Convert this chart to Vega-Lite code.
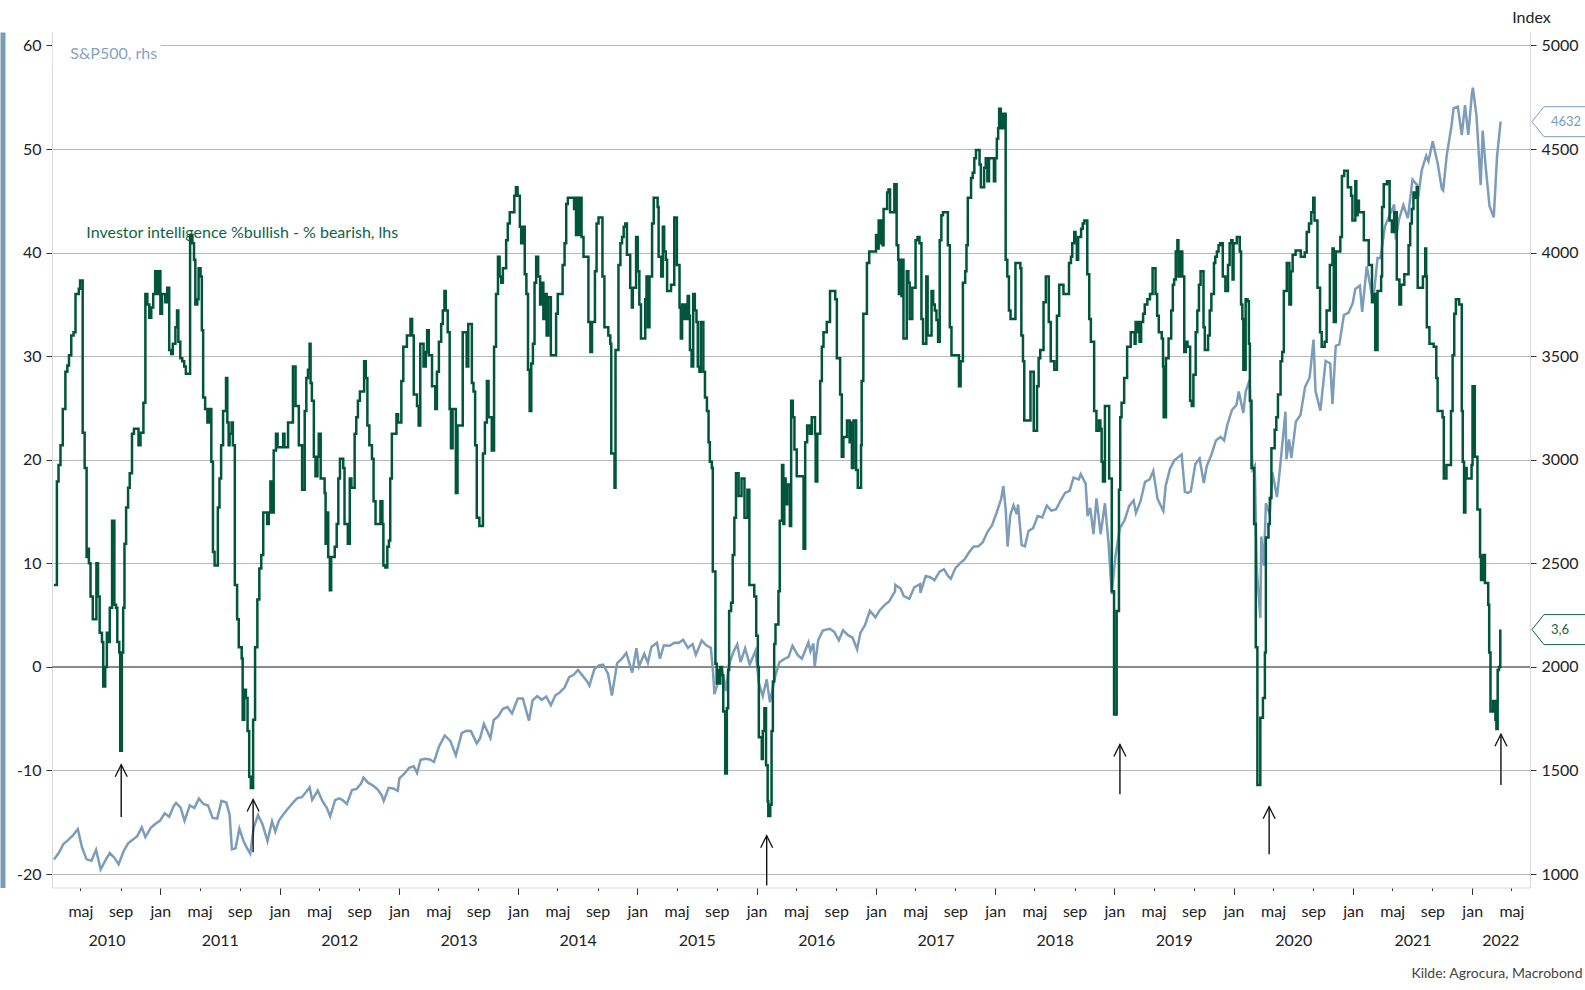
{
  "$schema": "https://vega.github.io/schema/vega-lite/v6.json",
  "width": 1478,
  "height": 855.5,
  "autosize": {"type": "none"},
  "padding": {"left": 52, "top": 32, "right": 55, "bottom": 102.5},
  "background": "white",
  "config": {
    "view": {"stroke": null},
    "font": "Lato",
    "axis": {"labelFont": "Lato", "labelFontSize": 16, "labelColor": "#222", "titleFont": "Lato", "domainColor": "#d9d9d9", "tickColor": "#333", "grid": false}
  },
  "datasets": {
    "ii": [
      {"d":"2010-02-09","v":7.9},{"d":"2010-02-18","v":17.9},{"d":"2010-02-23","v":19.5},{"d":"2010-03-01","v":21.4},{"d":"2010-03-08","v":24.9},{"d":"2010-03-16","v":28.5},{"d":"2010-03-22","v":29.1},{"d":"2010-03-27","v":30.1},{"d":"2010-04-03","v":32},{"d":"2010-04-10","v":32.3},{"d":"2010-04-16","v":36},{"d":"2010-04-26","v":36.5},{"d":"2010-04-30","v":37.3},{"d":"2010-05-08","v":22.6},{"d":"2010-05-14","v":19.2},{"d":"2010-05-20","v":10.6},{"d":"2010-05-22","v":11.4},{"d":"2010-05-27","v":10},{"d":"2010-06-01","v":6.8},{"d":"2010-06-08","v":4.6},{"d":"2010-06-19","v":10},{"d":"2010-06-24","v":6.8},{"d":"2010-06-29","v":3.3},{"d":"2010-07-06","v":2.4},{"d":"2010-07-10","v":-1.9},{"d":"2010-07-16","v":0},{"d":"2010-07-21","v":3.3},{"d":"2010-07-27","v":2.4},{"d":"2010-07-30","v":5.7},{"d":"2010-08-06","v":14.1},{"d":"2010-08-13","v":6},{"d":"2010-08-18","v":5.7},{"d":"2010-08-22","v":2.4},{"d":"2010-08-28","v":1.4},{"d":"2010-08-31","v":-8.1},{"d":"2010-09-05","v":1.4},{"d":"2010-09-09","v":5.7},{"d":"2010-09-13","v":11.9},{"d":"2010-09-18","v":15.4},{"d":"2010-09-24","v":17.3},{"d":"2010-09-29","v":18.7},{"d":"2010-10-06","v":22.5},{"d":"2010-10-12","v":23},{"d":"2010-10-26","v":21.4},{"d":"2010-11-01","v":22.6},{"d":"2010-11-10","v":25.5},{"d":"2010-11-16","v":36},{"d":"2010-11-22","v":35},{"d":"2010-11-28","v":33.7},{"d":"2010-12-04","v":34.7},{"d":"2010-12-10","v":36},{"d":"2010-12-16","v":38.2},{"d":"2010-12-21","v":36},{"d":"2010-12-27","v":38.2},
      {"d":"2011-01-01","v":34.1},{"d":"2011-01-06","v":36},{"d":"2011-01-16","v":35.2},{"d":"2011-01-22","v":36.6},{"d":"2011-01-28","v":30.6},{"d":"2011-02-03","v":30.2},{"d":"2011-02-08","v":31.2},{"d":"2011-02-16","v":32.8},{"d":"2011-02-21","v":34.4},{"d":"2011-02-25","v":31.4},{"d":"2011-03-03","v":29.8},{"d":"2011-03-09","v":29.5},{"d":"2011-03-15","v":29},{"d":"2011-03-20","v":28.3},{"d":"2011-04-02","v":41.7},{"d":"2011-04-09","v":40.9},{"d":"2011-04-14","v":39.3},{"d":"2011-04-18","v":35},{"d":"2011-04-24","v":35.5},{"d":"2011-04-28","v":38.5},{"d":"2011-05-04","v":37.7},{"d":"2011-05-08","v":32.5},{"d":"2011-05-12","v":26},{"d":"2011-05-18","v":24.9},{"d":"2011-05-25","v":23.6},{"d":"2011-05-31","v":24.9},{"d":"2011-06-06","v":19.8},{"d":"2011-06-11","v":11.1},{"d":"2011-06-16","v":9.8},{"d":"2011-06-26","v":15.4},{"d":"2011-07-01","v":18.2},{"d":"2011-07-06","v":21.4},{"d":"2011-07-12","v":24.7},{"d":"2011-07-21","v":27.9},{"d":"2011-07-25","v":23.6},{"d":"2011-07-29","v":21.4},{"d":"2011-08-01","v":22.5},{"d":"2011-08-07","v":23.6},{"d":"2011-08-11","v":21.4},{"d":"2011-08-17","v":7.9},{"d":"2011-08-24","v":4.6},{"d":"2011-08-29","v":1.9},{"d":"2011-09-07","v":0.8},{"d":"2011-09-10","v":-5.1},{"d":"2011-09-15","v":-2.2},{"d":"2011-09-20","v":-3},{"d":"2011-09-25","v":-6.2},{"d":"2011-09-30","v":-10.6},{"d":"2011-10-05","v":-11.7},{"d":"2011-10-12","v":-5.1},{"d":"2011-10-18","v":1.9},{"d":"2011-10-25","v":6.5},{"d":"2011-10-31","v":9.5},{"d":"2011-11-06","v":10.8},{"d":"2011-11-12","v":14.9},{"d":"2011-11-24","v":13.8},{"d":"2011-11-29","v":14.9},{"d":"2011-12-04","v":17.9},{"d":"2011-12-10","v":14.9},{"d":"2011-12-14","v":20.9},{"d":"2011-12-21","v":22.5},{"d":"2011-12-26","v":21.2},
      {"d":"2012-01-12","v":22.5},{"d":"2012-01-16","v":21.2},{"d":"2012-01-27","v":23.6},{"d":"2012-02-11","v":29},{"d":"2012-02-19","v":25.2},{"d":"2012-02-29","v":21.4},{"d":"2012-03-10","v":17.1},{"d":"2012-03-18","v":24.7},{"d":"2012-03-23","v":27.9},{"d":"2012-03-28","v":28.7},{"d":"2012-04-02","v":31.2},{"d":"2012-04-05","v":27.4},{"d":"2012-04-09","v":25.7},{"d":"2012-04-15","v":20.3},{"d":"2012-04-20","v":18.4},{"d":"2012-04-26","v":20.3},{"d":"2012-04-30","v":22.5},{"d":"2012-05-06","v":18.2},{"d":"2012-05-18","v":16.8},{"d":"2012-05-21","v":11.9},{"d":"2012-05-25","v":14.9},{"d":"2012-05-29","v":10.6},{"d":"2012-06-03","v":7.4},{"d":"2012-06-07","v":10.6},{"d":"2012-06-18","v":11.6},{"d":"2012-06-24","v":13.8},{"d":"2012-06-29","v":18.2},{"d":"2012-07-04","v":20.1},{"d":"2012-07-14","v":19.2},{"d":"2012-07-18","v":13.8},{"d":"2012-07-28","v":11.9},{"d":"2012-08-03","v":18.2},{"d":"2012-08-08","v":17.3},{"d":"2012-08-18","v":22.5},{"d":"2012-08-23","v":24.1},{"d":"2012-08-28","v":25.7},{"d":"2012-09-03","v":26.6},{"d":"2012-09-16","v":29.5},{"d":"2012-09-21","v":27.9},{"d":"2012-09-26","v":23.3},{"d":"2012-10-02","v":21.4},{"d":"2012-10-10","v":20.1},{"d":"2012-10-15","v":16},{"d":"2012-10-21","v":13.8},{"d":"2012-11-05","v":16},{"d":"2012-11-11","v":13.8},{"d":"2012-11-14","v":9.8},{"d":"2012-11-20","v":9.6},{"d":"2012-11-26","v":11.6},{"d":"2012-12-01","v":12.2},{"d":"2012-12-05","v":18.2},{"d":"2012-12-10","v":22.5},{"d":"2012-12-24","v":24.4},{"d":"2012-12-29","v":23.6},
      {"d":"2013-01-08","v":27.6},{"d":"2013-01-14","v":30.9},{"d":"2013-01-25","v":32},{"d":"2013-02-05","v":33.6},{"d":"2013-02-10","v":32},{"d":"2013-02-15","v":26.3},{"d":"2013-02-25","v":25.2},{"d":"2013-03-02","v":23.3},{"d":"2013-03-07","v":31.2},{"d":"2013-03-17","v":29},{"d":"2013-03-24","v":30.4},{"d":"2013-03-28","v":32.5},{"d":"2013-04-02","v":30.1},{"d":"2013-04-12","v":27.1},{"d":"2013-04-22","v":24.9},{"d":"2013-04-27","v":28.5},{"d":"2013-05-03","v":31.4},{"d":"2013-05-10","v":33.1},{"d":"2013-05-15","v":34.4},{"d":"2013-05-20","v":36.3},{"d":"2013-05-24","v":34.4},{"d":"2013-05-30","v":32.3},{"d":"2013-06-05","v":24.9},{"d":"2013-06-09","v":21.1},{"d":"2013-06-14","v":24.9},{"d":"2013-06-24","v":16.8},{"d":"2013-06-29","v":23.3},{"d":"2013-07-15","v":32.3},{"d":"2013-07-27","v":29},{"d":"2013-08-01","v":33.1},{"d":"2013-08-12","v":27.4},{"d":"2013-08-17","v":26.6},{"d":"2013-08-22","v":21.4},{"d":"2013-08-27","v":14.4},{"d":"2013-09-04","v":13.6},{"d":"2013-09-15","v":20.6},{"d":"2013-09-21","v":23.6},{"d":"2013-09-27","v":27.6},{"d":"2013-10-02","v":24.1},{"d":"2013-10-12","v":20.9},{"d":"2013-10-19","v":30.9},{"d":"2013-10-25","v":36},{"d":"2013-10-31","v":39.6},{"d":"2013-11-05","v":37.7},{"d":"2013-11-10","v":37.1},{"d":"2013-11-15","v":38.5},{"d":"2013-11-25","v":41.2},{"d":"2013-11-30","v":42.8},{"d":"2013-12-06","v":43.9},{"d":"2013-12-20","v":45.5},{"d":"2013-12-25","v":46.3},{"d":"2013-12-30","v":45.5},
      {"d":"2014-01-06","v":42.5},{"d":"2014-01-10","v":40.9},{"d":"2014-01-16","v":42.5},{"d":"2014-01-21","v":37.9},{"d":"2014-01-26","v":36},{"d":"2014-01-31","v":28.7},{"d":"2014-02-05","v":24.7},{"d":"2014-02-10","v":29.3},{"d":"2014-02-15","v":31.2},{"d":"2014-02-20","v":37.1},{"d":"2014-02-25","v":39.6},{"d":"2014-03-03","v":37.7},{"d":"2014-03-09","v":35},{"d":"2014-03-14","v":37.1},{"d":"2014-03-19","v":33.6},{"d":"2014-03-24","v":36},{"d":"2014-03-29","v":32},{"d":"2014-04-03","v":35.7},{"d":"2014-04-11","v":30.1},{"d":"2014-04-27","v":34.1},{"d":"2014-05-02","v":36},{"d":"2014-05-17","v":38.8},{"d":"2014-05-23","v":40.9},{"d":"2014-05-28","v":44.7},{"d":"2014-06-02","v":45.3},{"d":"2014-06-21","v":44.2},{"d":"2014-06-25","v":45.3},{"d":"2014-06-27","v":41.7},{"d":"2014-07-02","v":45.3},{"d":"2014-07-06","v":41.7},{"d":"2014-07-10","v":45.3},{"d":"2014-07-14","v":41.5},{"d":"2014-07-20","v":39.6},{"d":"2014-08-04","v":33.3},{"d":"2014-08-10","v":30.4},{"d":"2014-08-15","v":33.3},{"d":"2014-08-24","v":38.2},{"d":"2014-08-29","v":42.8},{"d":"2014-09-04","v":43.4},{"d":"2014-09-16","v":37.7},{"d":"2014-09-22","v":32.8},{"d":"2014-10-04","v":32},{"d":"2014-10-10","v":31.2},{"d":"2014-10-13","v":20.6},{"d":"2014-10-23","v":17.3},{"d":"2014-10-26","v":30.6},{"d":"2014-11-04","v":38.8},{"d":"2014-11-10","v":40.9},{"d":"2014-11-15","v":41.5},{"d":"2014-11-20","v":42.5},{"d":"2014-11-25","v":42.8},{"d":"2014-11-30","v":39.8},{"d":"2014-12-10","v":36.6},{"d":"2014-12-15","v":34.7},{"d":"2014-12-18","v":36.6},{"d":"2014-12-28","v":41.5},
      {"d":"2015-01-02","v":38.2},{"d":"2015-01-07","v":35},{"d":"2015-01-12","v":31.7},{"d":"2015-01-25","v":35.5},{"d":"2015-01-29","v":37.7},{"d":"2015-02-02","v":32.8},{"d":"2015-02-07","v":37.7},{"d":"2015-02-15","v":42.8},{"d":"2015-02-20","v":45.3},{"d":"2015-03-04","v":44.4},{"d":"2015-03-07","v":39.6},{"d":"2015-03-15","v":37.7},{"d":"2015-03-20","v":42.5},{"d":"2015-03-24","v":40.1},{"d":"2015-03-29","v":39.3},{"d":"2015-04-02","v":36.3},{"d":"2015-04-14","v":36.9},{"d":"2015-04-24","v":43.4},{"d":"2015-05-02","v":38.8},{"d":"2015-05-10","v":34.7},{"d":"2015-05-14","v":31.7},{"d":"2015-05-18","v":35},{"d":"2015-05-22","v":33.6},{"d":"2015-05-26","v":35},{"d":"2015-05-31","v":33.6},{"d":"2015-06-04","v":35.8},{"d":"2015-06-08","v":33.9},{"d":"2015-06-11","v":30.6},{"d":"2015-06-16","v":29},{"d":"2015-06-21","v":36},{"d":"2015-06-26","v":34.4},{"d":"2015-07-01","v":33.3},{"d":"2015-07-05","v":29},{"d":"2015-07-10","v":28.5},{"d":"2015-07-14","v":33.3},{"d":"2015-07-22","v":28.5},{"d":"2015-07-27","v":26},{"d":"2015-08-02","v":24.7},{"d":"2015-08-07","v":21.7},{"d":"2015-08-11","v":19.8},{"d":"2015-08-17","v":19.2},{"d":"2015-08-20","v":9.2},{"d":"2015-08-28","v":0.3},{"d":"2015-09-01","v":-1.6},{"d":"2015-09-05","v":-0.3},{"d":"2015-09-08","v":-1.6},{"d":"2015-09-12","v":0},{"d":"2015-09-17","v":-0.8},{"d":"2015-09-21","v":-4.3},{"d":"2015-09-27","v":-10.3},{"d":"2015-10-02","v":-4},{"d":"2015-10-06","v":-0.3},{"d":"2015-10-09","v":5.4},{"d":"2015-10-15","v":6.2},{"d":"2015-10-20","v":10.8},{"d":"2015-10-25","v":14.4},{"d":"2015-10-30","v":18.7},{"d":"2015-11-07","v":16.5},{"d":"2015-11-16","v":18.2},{"d":"2015-11-25","v":14.4},{"d":"2015-12-04","v":17.1},{"d":"2015-12-10","v":7.9},{"d":"2015-12-25","v":6.8},{"d":"2015-12-31","v":3},
      {"d":"2016-01-05","v":0},{"d":"2016-01-08","v":-6.8},{"d":"2016-01-17","v":-8.9},{"d":"2016-01-20","v":-6.2},{"d":"2016-01-25","v":-4},{"d":"2016-01-30","v":-9.5},{"d":"2016-02-04","v":-13},{"d":"2016-02-06","v":-14.4},{"d":"2016-02-12","v":-13.3},{"d":"2016-02-16","v":-6.2},{"d":"2016-02-20","v":-1.4},{"d":"2016-02-24","v":2.2},{"d":"2016-02-28","v":4.1},{"d":"2016-03-08","v":7.3},{"d":"2016-03-12","v":14.1},{"d":"2016-03-19","v":19.5},{"d":"2016-03-23","v":13.8},{"d":"2016-03-26","v":18.2},{"d":"2016-03-30","v":15.7},{"d":"2016-04-04","v":17.6},{"d":"2016-04-12","v":13.6},{"d":"2016-04-16","v":25.7},{"d":"2016-04-21","v":24.1},{"d":"2016-04-26","v":21},{"d":"2016-05-03","v":18.4},{"d":"2016-05-24","v":11.4},{"d":"2016-05-29","v":21.7},{"d":"2016-06-04","v":23.3},{"d":"2016-06-12","v":22.5},{"d":"2016-06-18","v":24.1},{"d":"2016-06-28","v":22.5},{"d":"2016-06-30","v":17.9},{"d":"2016-07-05","v":22.5},{"d":"2016-07-14","v":27.6},{"d":"2016-07-19","v":30.9},{"d":"2016-07-24","v":32.3},{"d":"2016-08-03","v":33.3},{"d":"2016-08-13","v":36.3},{"d":"2016-08-29","v":35.5},{"d":"2016-09-03","v":29.8},{"d":"2016-09-13","v":26.3},{"d":"2016-09-18","v":20.3},{"d":"2016-09-23","v":22.2},{"d":"2016-10-04","v":23.8},{"d":"2016-10-12","v":21.7},{"d":"2016-10-16","v":23.6},{"d":"2016-10-19","v":19.2},{"d":"2016-10-24","v":23.8},{"d":"2016-11-01","v":19},{"d":"2016-11-06","v":17.3},{"d":"2016-11-16","v":21.4},{"d":"2016-11-18","v":27.6},{"d":"2016-11-23","v":34.1},{"d":"2016-12-04","v":39},{"d":"2016-12-11","v":40.1},
      {"d":"2017-01-01","v":41.7},{"d":"2017-01-05","v":40.4},{"d":"2017-01-09","v":43.1},{"d":"2017-01-14","v":40.9},{"d":"2017-01-17","v":43.1},{"d":"2017-01-21","v":40.7},{"d":"2017-01-24","v":44.2},{"d":"2017-02-04","v":45.8},{"d":"2017-02-08","v":46.1},{"d":"2017-02-13","v":43.9},{"d":"2017-02-26","v":46.6},{"d":"2017-03-05","v":40.7},{"d":"2017-03-10","v":39.3},{"d":"2017-03-12","v":36},{"d":"2017-03-17","v":39.3},{"d":"2017-03-20","v":35.8},{"d":"2017-03-23","v":39.3},{"d":"2017-03-26","v":31.7},{"d":"2017-04-05","v":38.2},{"d":"2017-04-10","v":37.1},{"d":"2017-04-14","v":33.6},{"d":"2017-04-22","v":36.6},{"d":"2017-05-02","v":41.2},{"d":"2017-05-08","v":41.5},{"d":"2017-05-14","v":40.9},{"d":"2017-05-20","v":33.6},{"d":"2017-05-25","v":31.2},{"d":"2017-06-04","v":37.7},{"d":"2017-06-08","v":32},{"d":"2017-06-20","v":36.3},{"d":"2017-06-25","v":35},{"d":"2017-06-30","v":34.4},{"d":"2017-07-05","v":33.5},{"d":"2017-07-10","v":31.4},{"d":"2017-07-15","v":41.2},{"d":"2017-07-20","v":43.6},{"d":"2017-07-25","v":43.9},{"d":"2017-08-09","v":40.7},{"d":"2017-08-15","v":32.8},{"d":"2017-08-20","v":30.1},{"d":"2017-09-12","v":27.1},{"d":"2017-09-17","v":29.5},{"d":"2017-09-24","v":37.1},{"d":"2017-10-01","v":38.2},{"d":"2017-10-05","v":40.7},{"d":"2017-10-09","v":45.3},{"d":"2017-10-19","v":47.2},{"d":"2017-10-24","v":47.7},{"d":"2017-10-29","v":49.1},{"d":"2017-11-03","v":49.9},{"d":"2017-11-14","v":48.5},{"d":"2017-11-18","v":46.3},{"d":"2017-11-28","v":48.2},{"d":"2017-12-03","v":49.1},{"d":"2017-12-08","v":46.9},{"d":"2017-12-13","v":49.1},{"d":"2017-12-28","v":46.9},
      {"d":"2018-01-01","v":49.1},{"d":"2018-01-06","v":51},{"d":"2018-01-10","v":52},{"d":"2018-01-13","v":53.9},{"d":"2018-01-18","v":52},{"d":"2018-01-23","v":53.4},{"d":"2018-01-28","v":52},{"d":"2018-01-31","v":53.4},{"d":"2018-02-02","v":39.3},{"d":"2018-02-07","v":37.7},{"d":"2018-02-12","v":34.4},{"d":"2018-02-17","v":33.6},{"d":"2018-03-04","v":39},{"d":"2018-03-19","v":38.5},{"d":"2018-03-22","v":32},{"d":"2018-03-27","v":29.5},{"d":"2018-03-31","v":23.8},{"d":"2018-04-19","v":28.5},{"d":"2018-04-29","v":22.8},{"d":"2018-05-09","v":27.1},{"d":"2018-05-14","v":29.8},{"d":"2018-05-19","v":30.6},{"d":"2018-05-29","v":35.2},{"d":"2018-06-05","v":37.7},{"d":"2018-06-14","v":33.3},{"d":"2018-06-20","v":29.5},{"d":"2018-07-01","v":28.7},{"d":"2018-07-09","v":33.9},{"d":"2018-07-16","v":36.9},{"d":"2018-07-29","v":36},{"d":"2018-08-15","v":39},{"d":"2018-08-21","v":39.6},{"d":"2018-08-25","v":40.9},{"d":"2018-08-31","v":42},{"d":"2018-09-04","v":41.2},{"d":"2018-09-08","v":39.3},{"d":"2018-09-12","v":41.5},{"d":"2018-09-21","v":42.3},{"d":"2018-09-26","v":42.8},{"d":"2018-10-01","v":43.1},{"d":"2018-10-10","v":37.9},{"d":"2018-10-16","v":33.6},{"d":"2018-10-21","v":31.4},{"d":"2018-10-31","v":24.7},{"d":"2018-11-07","v":22.8},{"d":"2018-11-15","v":23.8},{"d":"2018-11-19","v":23},{"d":"2018-11-23","v":19.8},{"d":"2018-11-27","v":17.9},{"d":"2018-12-03","v":25.2},{"d":"2018-12-16","v":18.2},{"d":"2018-12-24","v":7.3},{"d":"2018-12-31","v":-4.6},
      {"d":"2019-01-08","v":5.4},{"d":"2019-01-15","v":17.1},{"d":"2019-01-19","v":24.1},{"d":"2019-01-23","v":25.5},{"d":"2019-01-31","v":27.9},{"d":"2019-02-09","v":30.9},{"d":"2019-02-20","v":32.3},{"d":"2019-03-04","v":31.2},{"d":"2019-03-07","v":33.3},{"d":"2019-03-12","v":32.3},{"d":"2019-03-16","v":33.3},{"d":"2019-03-19","v":31.4},{"d":"2019-03-24","v":33.3},{"d":"2019-03-30","v":34.1},{"d":"2019-04-04","v":35},{"d":"2019-04-12","v":35.5},{"d":"2019-04-20","v":36},{"d":"2019-04-28","v":38.5},{"d":"2019-05-07","v":36},{"d":"2019-05-12","v":33.9},{"d":"2019-05-17","v":32.3},{"d":"2019-05-26","v":31.7},{"d":"2019-05-30","v":29},{"d":"2019-06-01","v":24.1},{"d":"2019-06-08","v":29.8},{"d":"2019-06-16","v":31.7},{"d":"2019-06-24","v":34.4},{"d":"2019-06-29","v":36.9},{"d":"2019-07-03","v":37.4},{"d":"2019-07-08","v":40.1},{"d":"2019-07-13","v":41.2},{"d":"2019-07-16","v":37.7},{"d":"2019-07-21","v":40.1},{"d":"2019-07-28","v":37.7},{"d":"2019-08-03","v":30.4},{"d":"2019-08-08","v":31.4},{"d":"2019-08-13","v":30.9},{"d":"2019-08-21","v":25.7},{"d":"2019-08-26","v":25.2},{"d":"2019-08-31","v":28.2},{"d":"2019-09-07","v":32.3},{"d":"2019-09-12","v":34.4},{"d":"2019-09-17","v":36.9},{"d":"2019-09-22","v":38.2},{"d":"2019-10-01","v":32.8},{"d":"2019-10-05","v":30.6},{"d":"2019-10-15","v":32},{"d":"2019-10-20","v":34.4},{"d":"2019-10-25","v":36},{"d":"2019-11-02","v":39},{"d":"2019-11-06","v":39.6},{"d":"2019-11-11","v":40.1},{"d":"2019-11-16","v":40.7},{"d":"2019-11-21","v":40.9},{"d":"2019-11-29","v":37.7},{"d":"2019-12-07","v":36.3},{"d":"2019-12-15","v":38.8},{"d":"2019-12-20","v":40.9},{"d":"2019-12-25","v":41.2},{"d":"2019-12-29","v":37.4},
      {"d":"2020-01-01","v":40.9},{"d":"2020-01-11","v":41.5},{"d":"2020-01-20","v":40.1},{"d":"2020-01-24","v":35},{"d":"2020-01-28","v":33.6},{"d":"2020-01-31","v":28.7},{"d":"2020-02-07","v":35.5},{"d":"2020-02-13","v":35.3},{"d":"2020-02-17","v":31.2},{"d":"2020-02-20","v":25.7},{"d":"2020-02-25","v":19.2},{"d":"2020-03-04","v":13.8},{"d":"2020-03-09","v":1.9},{"d":"2020-03-14","v":-11.4},{"d":"2020-03-23","v":-4.9},{"d":"2020-03-31","v":-3},{"d":"2020-04-06","v":1.4},{"d":"2020-04-09","v":12.5},{"d":"2020-04-17","v":13.8},{"d":"2020-04-21","v":16.3},{"d":"2020-04-26","v":21.1},{"d":"2020-05-06","v":22.9},{"d":"2020-05-11","v":24.1},{"d":"2020-05-16","v":26.3},{"d":"2020-05-24","v":29.5},{"d":"2020-05-29","v":30.4},{"d":"2020-06-03","v":36.3},{"d":"2020-06-12","v":39},{"d":"2020-06-20","v":35},{"d":"2020-06-25","v":38.2},{"d":"2020-06-30","v":39.8},{"d":"2020-07-09","v":40.2},{"d":"2020-07-25","v":39.6},{"d":"2020-08-06","v":40},{"d":"2020-08-12","v":42},{"d":"2020-08-19","v":42.8},{"d":"2020-08-26","v":43.9},{"d":"2020-09-01","v":45.3},{"d":"2020-09-05","v":43.1},{"d":"2020-09-14","v":36.6},{"d":"2020-09-22","v":32.3},{"d":"2020-09-27","v":30.9},{"d":"2020-10-06","v":31.4},{"d":"2020-10-12","v":34.4},{"d":"2020-10-22","v":38.8},{"d":"2020-10-30","v":40.4},{"d":"2020-11-03","v":33.3},{"d":"2020-11-09","v":40.1},{"d":"2020-11-23","v":41.5},{"d":"2020-11-28","v":47.4},{"d":"2020-12-05","v":47.9},{"d":"2020-12-16","v":46.3},{"d":"2020-12-26","v":45.5},{"d":"2020-12-30","v":43.1},
      {"d":"2021-01-08","v":46.9},{"d":"2021-01-11","v":43.6},{"d":"2021-01-15","v":45},{"d":"2021-01-19","v":43.9},{"d":"2021-02-03","v":41.2},{"d":"2021-02-18","v":38.8},{"d":"2021-02-28","v":35.2},{"d":"2021-03-05","v":36},{"d":"2021-03-10","v":30.6},{"d":"2021-03-17","v":36.3},{"d":"2021-03-28","v":37.7},{"d":"2021-03-31","v":44.4},{"d":"2021-04-05","v":46.6},{"d":"2021-04-15","v":46.9},{"d":"2021-04-23","v":43.1},{"d":"2021-04-30","v":42},{"d":"2021-05-07","v":43.9},{"d":"2021-05-15","v":37.4},{"d":"2021-05-23","v":35},{"d":"2021-05-28","v":36.9},{"d":"2021-06-07","v":37.9},{"d":"2021-06-20","v":40.7},{"d":"2021-06-25","v":42.8},{"d":"2021-06-30","v":44.2},{"d":"2021-07-05","v":45.8},{"d":"2021-07-10","v":45.3},{"d":"2021-07-15","v":46.3},{"d":"2021-07-18","v":36.6},{"d":"2021-08-03","v":37.7},{"d":"2021-08-10","v":40.4},{"d":"2021-08-13","v":37.7},{"d":"2021-08-15","v":32.8},{"d":"2021-08-23","v":31.2},{"d":"2021-09-05","v":30.9},{"d":"2021-09-13","v":27.9},{"d":"2021-09-17","v":24.7},{"d":"2021-10-02","v":24.1},{"d":"2021-10-06","v":18.2},{"d":"2021-10-14","v":19.5},{"d":"2021-10-28","v":24.7},{"d":"2021-11-02","v":30.1},{"d":"2021-11-07","v":34.1},{"d":"2021-11-12","v":35.5},{"d":"2021-11-22","v":35},{"d":"2021-11-30","v":24.7},{"d":"2021-12-03","v":19.8},{"d":"2021-12-07","v":14.9},{"d":"2021-12-11","v":19.2},{"d":"2021-12-15","v":18.2},{"d":"2021-12-30","v":19.5},
      {"d":"2022-01-02","v":27.1},{"d":"2022-01-09","v":20.3},{"d":"2022-01-17","v":15.2},{"d":"2022-01-25","v":10.6},{"d":"2022-01-28","v":8.4},{"d":"2022-02-02","v":10.8},{"d":"2022-02-09","v":8.1},{"d":"2022-02-19","v":6},{"d":"2022-02-22","v":1.4},{"d":"2022-02-26","v":-4.3},{"d":"2022-03-06","v":-3.3},{"d":"2022-03-13","v":-5.1},{"d":"2022-03-16","v":-6},{"d":"2022-03-20","v":-0.3},{"d":"2022-03-24","v":0},{"d":"2022-03-28","v":3.6}
    ],
    "spx": [
      {"d":"2010-02-09","s":1070},{"d":"2010-02-25","s":1105},{"d":"2010-03-10","s":1145},{"d":"2010-03-25","s":1165},{"d":"2010-04-08","s":1186},{"d":"2010-04-23","s":1217},{"d":"2010-05-06","s":1128},{"d":"2010-05-20","s":1071},{"d":"2010-06-04","s":1064},{"d":"2010-06-18","s":1117},{"d":"2010-07-02","s":1022},{"d":"2010-07-16","s":1065},{"d":"2010-07-30","s":1101},{"d":"2010-08-13","s":1079},{"d":"2010-08-26","s":1047},{"d":"2010-09-10","s":1109},{"d":"2010-09-24","s":1148},{"d":"2010-10-08","s":1165},{"d":"2010-10-22","s":1183},{"d":"2010-11-05","s":1225},{"d":"2010-11-16","s":1178},{"d":"2010-12-03","s":1224},{"d":"2010-12-17","s":1243},{"d":"2010-12-31","s":1258},
      {"d":"2011-01-14","s":1293},{"d":"2011-01-28","s":1276},{"d":"2011-02-11","s":1329},{"d":"2011-02-18","s":1343},{"d":"2011-03-04","s":1321},{"d":"2011-03-16","s":1257},{"d":"2011-04-01","s":1332},{"d":"2011-04-15","s":1319},{"d":"2011-04-29","s":1364},{"d":"2011-05-13","s":1338},{"d":"2011-05-27","s":1331},{"d":"2011-06-10","s":1271},{"d":"2011-06-24","s":1268},{"d":"2011-07-07","s":1353},{"d":"2011-07-22","s":1345},{"d":"2011-08-01","s":1287},{"d":"2011-08-08","s":1119},{"d":"2011-08-19","s":1124},{"d":"2011-08-31","s":1219},{"d":"2011-09-12","s":1162},{"d":"2011-09-22","s":1129},{"d":"2011-10-03","s":1099},{"d":"2011-10-14","s":1224},{"d":"2011-10-27","s":1285},{"d":"2011-11-10","s":1239},{"d":"2011-11-25","s":1159},{"d":"2011-12-09","s":1255},{"d":"2011-12-19","s":1205},{"d":"2011-12-30","s":1258},
      {"d":"2012-01-13","s":1289},{"d":"2012-01-27","s":1316},{"d":"2012-02-10","s":1342},{"d":"2012-02-24","s":1366},{"d":"2012-03-09","s":1371},{"d":"2012-03-23","s":1397},{"d":"2012-04-02","s":1419},{"d":"2012-04-10","s":1358},{"d":"2012-04-27","s":1403},{"d":"2012-05-11","s":1353},{"d":"2012-05-25","s":1318},{"d":"2012-06-04","s":1278},{"d":"2012-06-19","s":1357},{"d":"2012-07-02","s":1365},{"d":"2012-07-13","s":1356},{"d":"2012-07-25","s":1338},{"d":"2012-08-10","s":1405},{"d":"2012-08-24","s":1411},{"d":"2012-09-07","s":1438},{"d":"2012-09-14","s":1466},{"d":"2012-09-28","s":1441},{"d":"2012-10-12","s":1428},{"d":"2012-10-26","s":1411},{"d":"2012-11-09","s":1380},{"d":"2012-11-15","s":1353},{"d":"2012-11-30","s":1416},{"d":"2012-12-14","s":1413},{"d":"2012-12-28","s":1402},
      {"d":"2013-01-02","s":1462},{"d":"2013-01-18","s":1486},{"d":"2013-02-01","s":1513},{"d":"2013-02-15","s":1520},{"d":"2013-02-25","s":1488},{"d":"2013-03-08","s":1551},{"d":"2013-03-22","s":1556},{"d":"2013-04-05","s":1553},{"d":"2013-04-18","s":1541},{"d":"2013-05-03","s":1614},{"d":"2013-05-21","s":1669},{"d":"2013-06-07","s":1643},{"d":"2013-06-24","s":1573},{"d":"2013-07-12","s":1680},{"d":"2013-07-26","s":1692},{"d":"2013-08-09","s":1691},{"d":"2013-08-27","s":1631},{"d":"2013-09-06","s":1655},{"d":"2013-09-18","s":1725},{"d":"2013-10-08","s":1656},{"d":"2013-10-18","s":1744},{"d":"2013-11-01","s":1762},{"d":"2013-11-15","s":1798},{"d":"2013-11-29","s":1806},{"d":"2013-12-13","s":1775},{"d":"2013-12-31","s":1848},
      {"d":"2014-01-15","s":1848},{"d":"2014-02-03","s":1741},{"d":"2014-02-14","s":1838},{"d":"2014-02-28","s":1859},{"d":"2014-03-14","s":1841},{"d":"2014-03-28","s":1857},{"d":"2014-04-11","s":1815},{"d":"2014-04-25","s":1863},{"d":"2014-05-09","s":1878},{"d":"2014-05-23","s":1900},{"d":"2014-06-06","s":1950},{"d":"2014-06-20","s":1962},{"d":"2014-07-03","s":1985},{"d":"2014-07-17","s":1958},{"d":"2014-07-31","s":1930},{"d":"2014-08-07","s":1910},{"d":"2014-08-22","s":1988},{"d":"2014-09-05","s":2007},{"d":"2014-09-18","s":2011},{"d":"2014-10-03","s":1967},{"d":"2014-10-15","s":1862},{"d":"2014-10-31","s":2018},{"d":"2014-11-14","s":2039},{"d":"2014-11-28","s":2067},{"d":"2014-12-16","s":1972},{"d":"2014-12-29","s":2090},
      {"d":"2015-01-06","s":2002},{"d":"2015-01-22","s":2063},{"d":"2015-02-02","s":2020},{"d":"2015-02-13","s":2096},{"d":"2015-03-02","s":2117},{"d":"2015-03-11","s":2040},{"d":"2015-03-23","s":2104},{"d":"2015-04-10","s":2102},{"d":"2015-04-24","s":2117},{"d":"2015-05-08","s":2116},{"d":"2015-05-21","s":2131},{"d":"2015-06-05","s":2092},{"d":"2015-06-19","s":2110},{"d":"2015-06-29","s":2058},{"d":"2015-07-17","s":2127},{"d":"2015-07-31","s":2104},{"d":"2015-08-14","s":2092},{"d":"2015-08-21","s":1971},{"d":"2015-08-25","s":1868},{"d":"2015-09-04","s":1921},{"d":"2015-09-17","s":1990},{"d":"2015-09-29","s":1884},{"d":"2015-10-09","s":2014},{"d":"2015-10-23","s":2075},{"d":"2015-11-03","s":2109},{"d":"2015-11-13","s":2023},{"d":"2015-11-27","s":2090},{"d":"2015-12-11","s":2012},{"d":"2015-12-29","s":2078},
      {"d":"2016-01-08","s":1922},{"d":"2016-01-20","s":1859},{"d":"2016-02-01","s":1940},{"d":"2016-02-11","s":1829},{"d":"2016-02-26","s":1948},{"d":"2016-03-11","s":2022},{"d":"2016-03-24","s":2036},{"d":"2016-04-08","s":2048},{"d":"2016-04-20","s":2102},{"d":"2016-05-06","s":2057},{"d":"2016-05-19","s":2040},{"d":"2016-06-08","s":2119},{"d":"2016-06-14","s":2075},{"d":"2016-06-23","s":2113},{"d":"2016-06-27","s":2001},{"d":"2016-07-08","s":2130},{"d":"2016-07-22","s":2175},{"d":"2016-08-12","s":2184},{"d":"2016-08-26","s":2169},{"d":"2016-09-09","s":2128},{"d":"2016-09-22","s":2177},{"d":"2016-10-07","s":2153},{"d":"2016-10-21","s":2141},{"d":"2016-11-04","s":2085},{"d":"2016-11-14","s":2164},{"d":"2016-11-28","s":2201},{"d":"2016-12-13","s":2271},{"d":"2016-12-30","s":2239},
      {"d":"2017-01-13","s":2275},{"d":"2017-01-26","s":2297},{"d":"2017-02-10","s":2316},{"d":"2017-02-28","s":2364},{"d":"2017-03-01","s":2396},{"d":"2017-03-17","s":2378},{"d":"2017-03-27","s":2342},{"d":"2017-04-13","s":2329},{"d":"2017-04-28","s":2384},{"d":"2017-05-16","s":2400},{"d":"2017-05-17","s":2357},{"d":"2017-06-02","s":2439},{"d":"2017-06-16","s":2433},{"d":"2017-06-29","s":2419},{"d":"2017-07-14","s":2459},{"d":"2017-07-28","s":2472},{"d":"2017-08-10","s":2438},{"d":"2017-08-18","s":2425},{"d":"2017-09-01","s":2477},{"d":"2017-09-15","s":2500},{"d":"2017-09-29","s":2519},{"d":"2017-10-13","s":2553},{"d":"2017-10-27","s":2581},{"d":"2017-11-10","s":2582},{"d":"2017-11-24","s":2602},{"d":"2017-12-08","s":2651},{"d":"2017-12-22","s":2683},
      {"d":"2018-01-05","s":2743},{"d":"2018-01-19","s":2810},{"d":"2018-01-26","s":2873},{"d":"2018-02-02","s":2762},{"d":"2018-02-08","s":2581},{"d":"2018-02-16","s":2732},{"d":"2018-02-26","s":2780},{"d":"2018-03-08","s":2738},{"d":"2018-03-12","s":2784},{"d":"2018-03-23","s":2588},{"d":"2018-04-02","s":2582},{"d":"2018-04-13","s":2656},{"d":"2018-04-27","s":2670},{"d":"2018-05-11","s":2728},{"d":"2018-05-25","s":2721},{"d":"2018-06-08","s":2779},{"d":"2018-06-22","s":2754},{"d":"2018-07-06","s":2760},{"d":"2018-07-20","s":2802},{"d":"2018-08-03","s":2840},{"d":"2018-08-17","s":2850},{"d":"2018-08-29","s":2914},{"d":"2018-09-14","s":2905},{"d":"2018-09-20","s":2931},{"d":"2018-10-05","s":2885},{"d":"2018-10-11","s":2728},{"d":"2018-10-19","s":2768},{"d":"2018-10-29","s":2641},{"d":"2018-11-07","s":2814},{"d":"2018-11-20","s":2641},{"d":"2018-12-03","s":2790},{"d":"2018-12-14","s":2600},{"d":"2018-12-24","s":2351},
      {"d":"2019-01-04","s":2532},{"d":"2019-01-18","s":2671},{"d":"2019-02-01","s":2707},{"d":"2019-02-15","s":2776},{"d":"2019-03-01","s":2804},{"d":"2019-03-08","s":2743},{"d":"2019-03-22","s":2800},{"d":"2019-04-05","s":2893},{"d":"2019-04-19","s":2905},{"d":"2019-04-30","s":2946},{"d":"2019-05-13","s":2812},{"d":"2019-05-31","s":2752},{"d":"2019-06-07","s":2873},{"d":"2019-06-20","s":2954},{"d":"2019-07-03","s":2996},{"d":"2019-07-26","s":3026},{"d":"2019-08-05","s":2845},{"d":"2019-08-14","s":2840},{"d":"2019-08-23","s":2847},{"d":"2019-09-06","s":2979},{"d":"2019-09-19","s":3006},{"d":"2019-10-02","s":2888},{"d":"2019-10-11","s":2970},{"d":"2019-10-25","s":3023},{"d":"2019-11-08","s":3093},{"d":"2019-11-22","s":3110},{"d":"2019-12-03","s":3093},{"d":"2019-12-13","s":3169},{"d":"2019-12-27","s":3240},
      {"d":"2020-01-10","s":3265},{"d":"2020-01-17","s":3330},{"d":"2020-01-31","s":3226},{"d":"2020-02-07","s":3328},{"d":"2020-02-19","s":3386},{"d":"2020-02-25","s":3128},{"d":"2020-02-28","s":2954},{"d":"2020-03-06","s":2972},{"d":"2020-03-12","s":2481},{"d":"2020-03-16","s":2386},{"d":"2020-03-23","s":2237},{"d":"2020-03-26","s":2630},{"d":"2020-04-03","s":2489},{"d":"2020-04-09","s":2790},{"d":"2020-04-21","s":2737},{"d":"2020-04-29","s":2939},{"d":"2020-05-13","s":2820},{"d":"2020-05-22","s":2955},{"d":"2020-06-08","s":3232},{"d":"2020-06-11","s":3002},{"d":"2020-06-19","s":3098},{"d":"2020-06-26","s":3009},{"d":"2020-07-10","s":3185},{"d":"2020-07-24","s":3216},{"d":"2020-08-07","s":3351},{"d":"2020-08-21","s":3397},{"d":"2020-09-02","s":3580},{"d":"2020-09-08","s":3332},{"d":"2020-09-23","s":3237},{"d":"2020-10-09","s":3477},{"d":"2020-10-23","s":3465},{"d":"2020-10-30","s":3270},{"d":"2020-11-09","s":3550},{"d":"2020-11-20","s":3557},{"d":"2020-12-04","s":3699},{"d":"2020-12-18","s":3709},{"d":"2020-12-31","s":3756},
      {"d":"2021-01-08","s":3824},{"d":"2021-01-22","s":3841},{"d":"2021-01-29","s":3714},{"d":"2021-02-12","s":3934},{"d":"2021-02-26","s":3811},{"d":"2021-03-04","s":3768},{"d":"2021-03-17","s":3974},{"d":"2021-03-26","s":3974},{"d":"2021-04-09","s":4128},{"d":"2021-04-23","s":4180},{"d":"2021-05-07","s":4232},{"d":"2021-05-12","s":4063},{"d":"2021-05-21","s":4155},{"d":"2021-06-04","s":4229},{"d":"2021-06-18","s":4166},{"d":"2021-07-02","s":4352},{"d":"2021-07-16","s":4327},{"d":"2021-07-19","s":4258},{"d":"2021-07-30","s":4395},{"d":"2021-08-13","s":4468},{"d":"2021-08-20","s":4441},{"d":"2021-09-02","s":4537},{"d":"2021-09-17","s":4433},{"d":"2021-09-30","s":4307},{"d":"2021-10-04","s":4300},{"d":"2021-10-15","s":4471},{"d":"2021-10-29","s":4605},{"d":"2021-11-05","s":4697},{"d":"2021-11-18","s":4704},{"d":"2021-11-30","s":4567},{"d":"2021-12-10","s":4712},{"d":"2021-12-20","s":4568},{"d":"2021-12-31","s":4766},
      {"d":"2022-01-03","s":4796},{"d":"2022-01-14","s":4662},{"d":"2022-01-27","s":4326},{"d":"2022-02-02","s":4589},{"d":"2022-02-11","s":4418},{"d":"2022-02-23","s":4225},{"d":"2022-03-08","s":4170},{"d":"2022-03-18","s":4463},{"d":"2022-03-29","s":4632}
    ],
    "arrows": [
      {"d":"2010-09-03","v":-9.45,"v2":-14.5},
      {"d":"2011-10-12","v":-12.8,"v2":-17.9},
      {"d":"2016-02-01","v":-16.3,"v2":-21.1},
      {"d":"2019-01-18","v":-7.5,"v2":-12.3},
      {"d":"2020-04-19","v":-13.5,"v2":-18.1},
      {"d":"2022-03-30","v":-6.5,"v2":-11.4}
    ]
  },
  "layer": [
    {
      "data": {"values": [{"d": "2010-02-03", "d2": "2022-06-27", "v": 0}]},
      "mark": {"type": "rule", "color": "#8a8a8a", "strokeWidth": 2},
      "encoding": {
        "x": {"field": "d", "type": "temporal", "scale": {"type": "utc", "nice": false, "domain": [{"year":2010,"month":2,"date":3,"utc":true},{"year":2022,"month":6,"date":27,"utc":true}]},
          "axis": {"orient": "bottom", "domain": false, "labels": false, "grid": false, "title": null, "tickSize": 7,
            "values": [{"year":2011,"month":1,"date":1,"utc":true},{"year":2012,"month":1,"date":1,"utc":true},{"year":2013,"month":1,"date":1,"utc":true},{"year":2014,"month":1,"date":1,"utc":true},{"year":2015,"month":1,"date":1,"utc":true},{"year":2016,"month":1,"date":1,"utc":true},{"year":2017,"month":1,"date":1,"utc":true},{"year":2018,"month":1,"date":1,"utc":true},{"year":2019,"month":1,"date":1,"utc":true},{"year":2020,"month":1,"date":1,"utc":true},{"year":2021,"month":1,"date":1,"utc":true},{"year":2022,"month":1,"date":1,"utc":true}]}},
        "x2": {"field": "d2"},
        "y": {"field": "v", "type": "quantitative", "scale": {"domain": [-21.3, 61.3], "nice": false, "zero": false},
          "axis": {"orient": "left", "offset": 49.5, "domain": true, "domainColor": "#7b9cb7", "domainWidth": 5, "labels": false, "ticks": false, "grid": false, "title": null}}
      }
    },
    {
      "data": {"name": "spx"},
      "mark": {"type": "line", "color": "#7b9db9", "strokeWidth": 2.5},
      "encoding": {
        "x": {"field": "d", "type": "temporal",
          "scale": {"type": "utc", "nice": false, "domain": [{"year":2010,"month":2,"date":3,"utc":true},{"year":2022,"month":6,"date":27,"utc":true}]},
          "axis": {"orient": "bottom", "domain": false, "ticks": false, "grid": false, "labelPadding": 45, "labelOverlap": false, "labelFlush": false,
            "labelExpr": "'' + utcyear(datum.value)",
            "values": [{"year":2010,"month":7,"date":20,"utc":true},{"year":2011,"month":7,"date":2,"utc":true},{"year":2012,"month":7,"date":2,"utc":true},{"year":2013,"month":7,"date":2,"utc":true},{"year":2014,"month":7,"date":2,"utc":true},{"year":2015,"month":7,"date":2,"utc":true},{"year":2016,"month":7,"date":2,"utc":true},{"year":2017,"month":7,"date":2,"utc":true},{"year":2018,"month":7,"date":2,"utc":true},{"year":2019,"month":7,"date":2,"utc":true},{"year":2020,"month":7,"date":2,"utc":true},{"year":2021,"month":7,"date":2,"utc":true},{"year":2022,"month":3,"date":28,"utc":true}],
            "title": "Kilde: Agrocura, Macrobond", "titleFontSize": 14, "titleFontWeight": "normal", "titleColor": "#444",
            "titleX": 1530, "titleY": 85.5, "titleAlign": "right", "titleBaseline": "middle", "titleAngle": 0}
        },
        "y": {"field": "s", "type": "quantitative", "scale": {"domain": [935, 5065], "nice": false, "zero": false},
          "axis": {"orient": "right", "values": [1000,1500,2000,2500,3000,3500,4000,4500,5000], "labelExpr": "'' + datum.value",
            "tickSize": 6, "labelPadding": 5, "grid": false, "domainColor": "#d9d9d9",
            "title": "Index", "titleAngle": 0, "titleX": 1, "titleY": -15, "titleAlign": "center", "titleBaseline": "middle",
            "titleFontSize": 16, "titleFontWeight": "normal", "titleColor": "#222"}
        }
      }
    },
    {
      "data": {"values": [{"d": "2022-07-03", "s": 4632}]},
      "mark": {"type": "point", "shape": "M0,0L0.2,-0.25L1.3,-0.25L1.3,0.25L0.2,0.25Z", "size": 14400, "filled": true, "fill": "white", "stroke": "#7b9db9", "strokeWidth": 1, "opacity": 1},
      "encoding": {
        "x": {"field": "d", "type": "temporal", "axis": null, "scale": {"type": "utc", "nice": false, "domain": [{"year":2010,"month":2,"date":3,"utc":true},{"year":2022,"month":6,"date":27,"utc":true}]}},
        "y": {"field": "s", "type": "quantitative", "axis": null, "scale": {"domain": [935, 5065], "nice": false, "zero": false}}
      }
    },
    {
      "data": {"values": [{"d": "2022-07-03", "s": 4632, "t": "4632"}]},
      "mark": {"type": "text", "align": "left", "baseline": "middle", "dx": 19, "fontSize": 13, "font": "Lato", "color": "#7b9db9"},
      "encoding": {
        "x": {"field": "d", "type": "temporal", "axis": null, "scale": {"type": "utc", "nice": false, "domain": [{"year":2010,"month":2,"date":3,"utc":true},{"year":2022,"month":6,"date":27,"utc":true}]}},
        "y": {"field": "s", "type": "quantitative", "axis": null, "scale": {"domain": [935, 5065], "nice": false, "zero": false}},
        "text": {"field": "t"}
      }
    },
    {
      "data": {"values": [{"d": "2010-02-05", "d2": "2011-01-02", "v": 60.25, "v2": 58.1}]},
      "mark": {"type": "rect", "color": "white"},
      "encoding": {
        "x": {"field": "d", "type": "temporal", "axis": null, "scale": {"type": "utc", "nice": false, "domain": [{"year":2010,"month":2,"date":3,"utc":true},{"year":2022,"month":6,"date":27,"utc":true}]}},
        "x2": {"field": "d2"},
        "y": {"field": "v", "type": "quantitative", "axis": null, "scale": {"domain": [-21.3, 61.3], "nice": false, "zero": false}},
        "y2": {"field": "v2"}
      }
    },
    {
      "data": {"values": [{"d": "2010-03-31", "v": 59.2, "t": "S&P500, rhs"}]},
      "mark": {"type": "text", "align": "left", "baseline": "middle", "fontSize": 16, "font": "Lato", "color": "#86a4bf"},
      "encoding": {
        "x": {"field": "d", "type": "temporal", "axis": null, "scale": {"type": "utc", "nice": false, "domain": [{"year":2010,"month":2,"date":3,"utc":true},{"year":2022,"month":6,"date":27,"utc":true}]}},
        "y": {"field": "v", "type": "quantitative", "axis": null, "scale": {"domain": [-21.3, 61.3], "nice": false, "zero": false}},
        "text": {"field": "t"}
      }
    },
    {
      "data": {"values": [{"d": "2010-05-19", "v": 41.9, "t": "Investor intelligence %bullish - % bearish, lhs"}]},
      "mark": {"type": "text", "align": "left", "baseline": "middle", "fontSize": 16, "font": "Lato", "color": "#0f6446"},
      "encoding": {
        "x": {"field": "d", "type": "temporal", "axis": null, "scale": {"type": "utc", "nice": false, "domain": [{"year":2010,"month":2,"date":3,"utc":true},{"year":2022,"month":6,"date":27,"utc":true}]}},
        "y": {"field": "v", "type": "quantitative", "axis": null, "scale": {"domain": [-21.3, 61.3], "nice": false, "zero": false}},
        "text": {"field": "t"}
      }
    },
    {
      "data": {"name": "ii"},
      "mark": {"type": "line", "color": "#00553a", "strokeWidth": 2.5, "interpolate": "step-after"},
      "encoding": {
        "x": {"field": "d", "type": "temporal",
          "scale": {"type": "utc", "nice": false, "domain": [{"year":2010,"month":2,"date":3,"utc":true},{"year":2022,"month":6,"date":27,"utc":true}]},
          "axis": {"orient": "bottom", "title": null, "grid": false, "domainColor": "#d9d9d9", "labelOverlap": false, "labelFlush": false,
            "labelPadding": 13, "tickSize": 3,
            "labelExpr": "['jan','feb','mar','apr','maj','jun','jul','aug','sep','okt','nov','dec'][utcmonth(datum.value)]",
            "values": [{"year":2010,"month":5,"date":1,"utc":true},{"year":2010,"month":9,"date":1,"utc":true},{"year":2011,"month":1,"date":1,"utc":true},{"year":2011,"month":5,"date":1,"utc":true},{"year":2011,"month":9,"date":1,"utc":true},{"year":2012,"month":1,"date":1,"utc":true},{"year":2012,"month":5,"date":1,"utc":true},{"year":2012,"month":9,"date":1,"utc":true},{"year":2013,"month":1,"date":1,"utc":true},{"year":2013,"month":5,"date":1,"utc":true},{"year":2013,"month":9,"date":1,"utc":true},{"year":2014,"month":1,"date":1,"utc":true},{"year":2014,"month":5,"date":1,"utc":true},{"year":2014,"month":9,"date":1,"utc":true},{"year":2015,"month":1,"date":1,"utc":true},{"year":2015,"month":5,"date":1,"utc":true},{"year":2015,"month":9,"date":1,"utc":true},{"year":2016,"month":1,"date":1,"utc":true},{"year":2016,"month":5,"date":1,"utc":true},{"year":2016,"month":9,"date":1,"utc":true},{"year":2017,"month":1,"date":1,"utc":true},{"year":2017,"month":5,"date":1,"utc":true},{"year":2017,"month":9,"date":1,"utc":true},{"year":2018,"month":1,"date":1,"utc":true},{"year":2018,"month":5,"date":1,"utc":true},{"year":2018,"month":9,"date":1,"utc":true},{"year":2019,"month":1,"date":1,"utc":true},{"year":2019,"month":5,"date":1,"utc":true},{"year":2019,"month":9,"date":1,"utc":true},{"year":2020,"month":1,"date":1,"utc":true},{"year":2020,"month":5,"date":1,"utc":true},{"year":2020,"month":9,"date":1,"utc":true},{"year":2021,"month":1,"date":1,"utc":true},{"year":2021,"month":5,"date":1,"utc":true},{"year":2021,"month":9,"date":1,"utc":true},{"year":2022,"month":1,"date":1,"utc":true},{"year":2022,"month":5,"date":1,"utc":true}]}
        },
        "y": {"field": "v", "type": "quantitative", "scale": {"domain": [-21.3, 61.3], "nice": false, "zero": false},
          "axis": {"orient": "left", "values": [-20,-10,0,10,20,30,40,50,60], "labelExpr": "'' + datum.value", "title": null,
            "tickSize": 6, "labelPadding": 5, "domainColor": "#d9d9d9", "grid": true, "gridColor": "#b9b9b9", "gridWidth": 1}
        }
      }
    },
    {
      "data": {"name": "arrows"},
      "mark": {"type": "rule", "color": "#111", "strokeWidth": 1.4},
      "encoding": {
        "x": {"field": "d", "type": "temporal", "axis": null, "scale": {"type": "utc", "nice": false, "domain": [{"year":2010,"month":2,"date":3,"utc":true},{"year":2022,"month":6,"date":27,"utc":true}]}},
        "y": {"field": "v", "type": "quantitative", "axis": null, "scale": {"domain": [-21.3, 61.3], "nice": false, "zero": false}},
        "y2": {"field": "v2"}
      }
    },
    {
      "data": {"name": "arrows"},
      "mark": {"type": "point", "shape": "M-0.5,1L0,0L0.5,1", "size": 576, "filled": false, "color": "#111", "strokeWidth": 1.3, "opacity": 1},
      "encoding": {
        "x": {"field": "d", "type": "temporal", "axis": null, "scale": {"type": "utc", "nice": false, "domain": [{"year":2010,"month":2,"date":3,"utc":true},{"year":2022,"month":6,"date":27,"utc":true}]}},
        "y": {"field": "v", "type": "quantitative", "axis": null, "scale": {"domain": [-21.3, 61.3], "nice": false, "zero": false}}
      }
    },
    {
      "data": {"values": [{"d": "2022-07-03", "v": 3.6}]},
      "mark": {"type": "point", "shape": "M0,0L0.2,-0.25L1.3,-0.25L1.3,0.25L0.2,0.25Z", "size": 14400, "filled": true, "fill": "white", "stroke": "#0f6446", "strokeWidth": 1, "opacity": 1},
      "encoding": {
        "x": {"field": "d", "type": "temporal", "axis": null, "scale": {"type": "utc", "nice": false, "domain": [{"year":2010,"month":2,"date":3,"utc":true},{"year":2022,"month":6,"date":27,"utc":true}]}},
        "y": {"field": "v", "type": "quantitative", "axis": null, "scale": {"domain": [-21.3, 61.3], "nice": false, "zero": false}}
      }
    },
    {
      "data": {"values": [{"d": "2022-07-03", "v": 3.6, "t": "3,6"}]},
      "mark": {"type": "text", "align": "left", "baseline": "middle", "dx": 19, "fontSize": 13, "font": "Lato", "color": "#0f6446"},
      "encoding": {
        "x": {"field": "d", "type": "temporal", "axis": null, "scale": {"type": "utc", "nice": false, "domain": [{"year":2010,"month":2,"date":3,"utc":true},{"year":2022,"month":6,"date":27,"utc":true}]}},
        "y": {"field": "v", "type": "quantitative", "axis": null, "scale": {"domain": [-21.3, 61.3], "nice": false, "zero": false}},
        "text": {"field": "t"}
      }
    }
  ],
  "resolve": {"scale": {"y": "independent"}, "axis": {"x": "independent", "y": "independent"}}
}
